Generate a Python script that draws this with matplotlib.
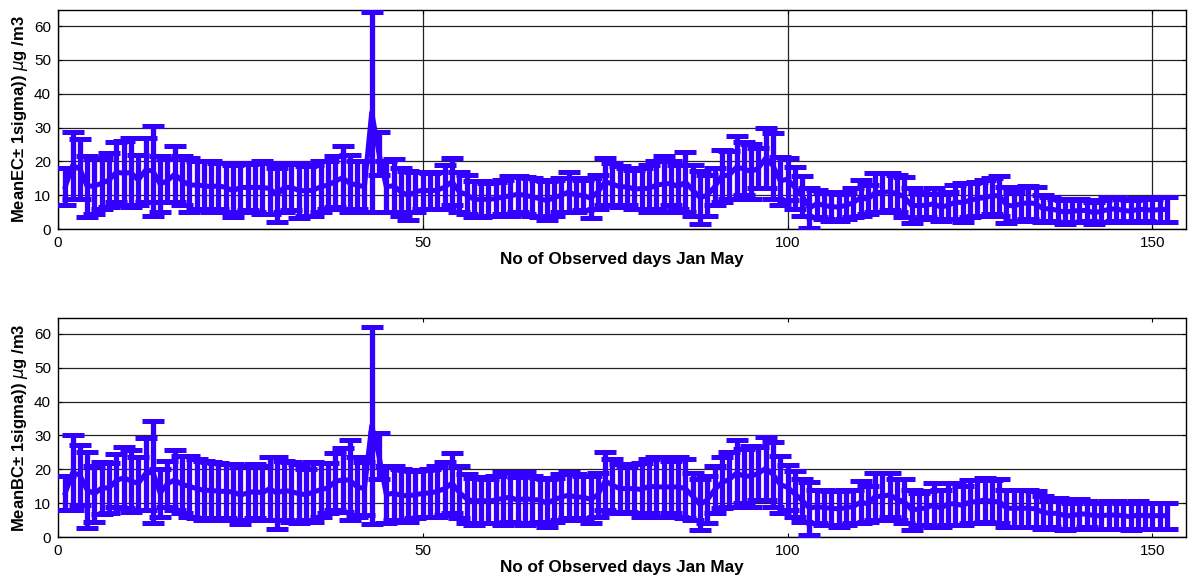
import matplotlib
matplotlib.use("Agg")
import matplotlib.pyplot as plt
import numpy as np

plt.rcParams["font.family"] = ["Liberation Sans", "DejaVu Sans"]
plt.rcParams["mathtext.fontset"] = "dejavusans"

# daily mean and 1-sigma of EC / BC (ug/m3), days 1..152
ec_mean = [12.5, 18.8, 17.8, 12.6, 12.8, 13.5, 14.5, 16.8, 16.5, 16.7,
           14.5, 17.4, 17.2, 13.3, 14.3, 16.2, 14.3, 13.0, 13.0, 12.8,
           12.5, 12.8, 12.3, 11.3, 12.3, 12.3, 12.3, 12.3, 12.0, 10.1,
           12.3, 12.3, 11.4, 11.3, 11.5, 12.5, 13.0, 14.1, 15.2, 13.5,
           13.0, 12.5, 34.5, 22.3, 12.5, 12.8, 11.0, 9.9, 11.0, 11.5,
           11.3, 11.5, 12.4, 14.0, 11.0, 10.2, 8.8, 8.8, 8.8, 9.0,
           9.5, 9.8, 10.3, 10.0, 9.5, 9.0, 8.4, 9.3, 10.0, 11.0,
           10.0, 10.0, 9.1, 11.0, 14.0, 13.3, 12.5, 12.5, 11.8, 12.0,
           12.0, 13.0, 13.3, 13.5, 12.5, 13.9, 11.5, 9.3, 10.0, 12.5,
           15.7, 16.0, 18.3, 17.8, 17.0, 18.0, 21.0, 18.7, 14.2, 14.8,
           12.2, 9.8, 6.2, 7.5, 7.0, 6.6, 6.5, 7.0, 7.8, 9.3,
           8.8, 10.8, 10.8, 11.0, 10.5, 9.5, 6.9, 7.0, 7.0, 7.5,
           6.5, 7.0, 8.0, 7.8, 8.5, 9.0, 9.3, 9.8, 9.9, 7.1,
           6.8, 7.5, 7.8, 7.5, 6.0, 6.0, 5.5, 5.0, 5.3, 5.5,
           5.5, 4.8, 5.3, 5.8, 6.0, 5.5, 5.3, 5.8, 5.8, 5.5,
           5.8, 5.8]
ec_sigma = [5.5, 9.8, 8.8, 9.0, 8.3, 7.5, 8.0, 8.8, 9.5, 10.2,
            7.5, 9.4, 13.2, 8.3, 6.3, 8.2, 7.3, 8.0, 7.0, 7.3,
            7.5, 6.8, 7.3, 7.7, 7.3, 6.8, 7.3, 7.8, 7.5, 7.9,
            7.3, 6.8, 8.2, 7.3, 7.5, 7.5, 7.0, 7.6, 9.2, 8.5,
            7.0, 7.5, 29.5, 6.3, 7.5, 7.8, 7.0, 7.2, 6.0, 5.5,
            5.3, 5.5, 6.4, 7.0, 6.0, 5.7, 5.3, 5.3, 4.8, 5.0,
            5.0, 5.8, 5.3, 5.5, 5.5, 5.5, 5.7, 5.3, 5.0, 6.0,
            5.0, 4.5, 5.9, 5.0, 7.0, 6.3, 6.0, 5.5, 5.8, 6.0,
            7.0, 7.0, 8.3, 6.5, 6.5, 8.9, 7.5, 7.8, 6.0, 5.5,
            7.7, 7.0, 9.3, 7.8, 8.0, 6.0, 9.0, 9.7, 7.2, 6.3,
            6.2, 5.8, 5.9, 4.0, 4.0, 4.1, 4.0, 4.0, 4.3, 5.3,
            4.3, 5.8, 5.8, 5.5, 5.5, 6.0, 5.2, 4.0, 3.5, 4.5,
            4.0, 4.0, 5.0, 5.8, 5.0, 5.0, 5.3, 5.3, 5.9, 5.4,
            4.3, 5.0, 4.8, 5.0, 4.0, 3.5, 3.5, 3.5, 3.3, 3.5,
            3.0, 3.3, 3.3, 3.8, 3.5, 3.5, 3.3, 3.3, 3.3, 3.5,
            3.8, 3.8]

bc_mean = [13.0, 19.0, 18.3, 13.9, 12.8, 14.5, 14.5, 16.7, 17.5, 16.6,
           15.8, 18.7, 19.2, 13.0, 15.7, 16.9, 15.5, 15.0, 14.3, 13.8,
           13.8, 13.5, 13.5, 13.3, 12.4, 13.0, 13.5, 13.0, 14.3, 13.0,
           13.8, 13.4, 12.8, 12.5, 13.3, 14.0, 14.5, 16.4, 16.9, 16.8,
           14.8, 14.3, 32.9, 23.9, 12.5, 13.0, 12.3, 12.2, 12.5, 12.9,
           13.0, 13.5, 14.3, 15.9, 13.2, 11.3, 10.5, 10.9, 10.5, 11.0,
           11.4, 11.8, 10.8, 11.4, 11.0, 11.0, 10.0, 11.0, 11.8, 12.4,
           11.8, 11.8, 11.1, 12.5, 16.6, 15.3, 14.3, 14.3, 14.3, 14.0,
           15.0, 14.8, 14.8, 14.8, 14.8, 14.3, 12.0, 9.6, 11.0, 14.0,
           16.1, 17.0, 18.9, 18.0, 18.0, 18.8, 20.3, 18.5, 15.5, 14.7,
           12.7, 10.8, 8.5, 9.0, 8.7, 8.5, 8.3, 8.7, 9.0, 10.3,
           9.8, 12.0, 12.0, 12.5, 11.1, 10.5, 8.0, 8.3, 8.6, 9.5,
           8.5, 9.8, 9.8, 9.3, 10.4, 10.4, 11.0, 10.4, 10.5, 8.5,
           8.5, 8.5, 8.5, 8.3, 7.3, 7.0, 7.0, 6.3, 6.3, 6.8,
           6.8, 6.3, 6.3, 6.5, 6.5, 6.3, 6.0, 6.5, 6.3, 6.3,
           6.3, 6.3]
bc_sigma = [5.0, 11.0, 8.8, 11.3, 8.3, 7.8, 7.5, 7.7, 9.0, 9.1,
            7.8, 10.7, 15.0, 7.0, 6.7, 8.9, 8.5, 9.0, 8.8, 8.8,
            8.3, 8.5, 8.0, 8.3, 8.6, 8.0, 8.0, 8.0, 9.3, 10.7,
            8.8, 8.9, 8.8, 7.5, 8.8, 8.0, 7.5, 8.4, 9.4, 11.8,
            8.8, 7.8, 29.1, 6.9, 8.5, 8.0, 7.8, 7.7, 7.0, 6.9,
            7.0, 7.5, 7.8, 8.9, 7.7, 7.3, 7.0, 6.9, 6.5, 7.0,
            7.9, 7.3, 6.8, 7.9, 7.0, 6.5, 7.0, 6.5, 6.8, 6.9,
            6.8, 6.3, 6.9, 6.5, 8.6, 7.8, 7.3, 6.8, 7.3, 8.0,
            8.0, 8.8, 8.8, 7.8, 8.8, 8.8, 7.0, 7.5, 7.0, 7.0,
            7.6, 8.0, 9.9, 8.0, 9.0, 7.8, 9.3, 9.5, 8.5, 6.7,
            6.7, 6.3, 7.9, 5.0, 5.2, 5.0, 5.3, 5.2, 5.0, 6.3,
            5.3, 7.0, 7.0, 6.5, 6.1, 6.5, 6.0, 4.8, 5.0, 6.5,
            5.5, 6.3, 6.3, 5.8, 6.4, 6.4, 6.5, 6.4, 6.5, 5.5,
            5.5, 5.5, 5.5, 5.3, 4.8, 4.0, 4.5, 4.3, 3.8, 4.3,
            3.8, 3.8, 3.8, 4.0, 4.0, 3.8, 4.0, 4.0, 3.8, 3.8,
            3.8, 3.8]

days = np.arange(1, len(ec_mean) + 1)
x_ticks = [0, 50, 100, 150]
y_ticks = [0, 10, 20, 30, 40, 50, 60]
bar_color = "#3300ff"

fig = plt.figure(figsize=(11.88, 5.77), dpi=100)
ax_ec = fig.add_axes((0.0488, 0.603, 0.9495, 0.3795))
ax_bc = fig.add_axes((0.0488, 0.0693, 0.9495, 0.3795))

panels = [(ax_ec, ec_mean, ec_sigma, "MeanEC\u00b1 1sigma)) $\\mu$g /m3", True),
          (ax_bc, bc_mean, bc_sigma, "MeanBC\u00b1 1sigma)) $\\mu$g /m3", False)]

for ax, mean, sigma, ylab, xgrid in panels:
    ax.errorbar(days, mean, yerr=sigma, color=bar_color, linewidth=3.6,
                elinewidth=3.8, capsize=8, capthick=3.6, zorder=3)
    ax.set_xlim(0, 154.6)
    ax.set_ylim(0, 64.7)
    ax.set_xticks(x_ticks)
    ax.set_yticks(y_ticks)
    ax.yaxis.grid(True, color="#222222", linewidth=0.9, linestyle="-")
    if xgrid:
        ax.xaxis.grid(True, color="#222222", linewidth=0.9, linestyle="-")
    ax.set_axisbelow(True)
    ax.tick_params(direction="in", length=3, width=0.8, top=True, right=True,
                   labelsize=11, pad=5)
    for s in ax.spines.values():
        s.set_linewidth(1.0)
        s.set_color("black")
    ax.set_xlabel("No of Observed days Jan May", fontsize=12.3, fontweight="bold", labelpad=1.5)
    ax.set_ylabel(ylab, fontsize=12, fontweight="bold", labelpad=3)

fig.savefig("out.png", dpi=100)
